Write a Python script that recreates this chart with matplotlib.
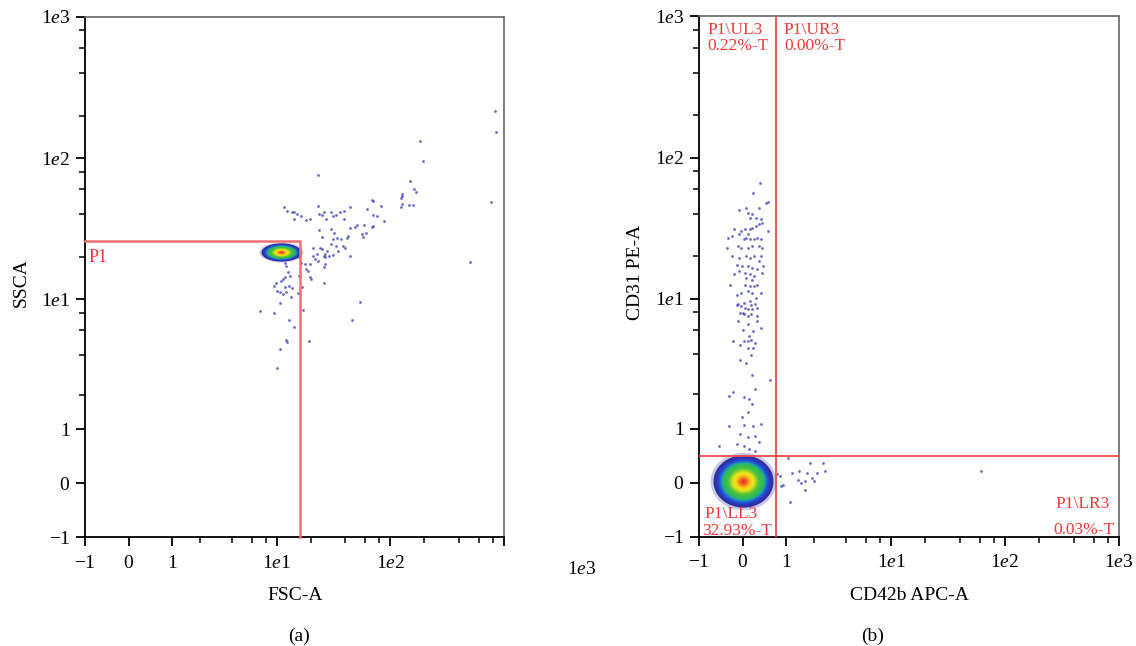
import numpy as np
import matplotlib
matplotlib.use("Agg")
import matplotlib.pyplot as plt
from matplotlib.path import Path
from matplotlib.colors import LinearSegmentedColormap
from matplotlib.ticker import FixedLocator, FixedFormatter, NullFormatter

plt.rcParams['font.family'] = ['Liberation Serif', 'DejaVu Serif']
plt.rcParams['mathtext.fontset'] = 'custom'
plt.rcParams['mathtext.rm'] = 'Liberation Serif'
plt.rcParams['mathtext.it'] = 'Liberation Serif:italic'

# ---------------- data ----------------
major_ticks = [-1, 0, 1, 10, 100, 1000]
major_labels = [r'$-1$', r'$0$', r'$1$', r'$1\mathit{e}1$', r'$1\mathit{e}2$', r'$1\mathit{e}3$']
minor_ticks = [2, 4, 6, 8, 20, 40, 60, 80, 200, 400, 600, 800]

# panel (a): FSC-A vs SSCA  (events as (FSC, SSC))
a_far = [(830, 214), (854, 152), (184, 133), (193, 95), (772, 48.5), (499, 18.5), (23.0, 76)]
a_right = [(148, 68.3), (162, 60.3), (168, 58.0), (126, 56.1), (128, 53.5), (124, 51.8),
           (126, 47.2), (124, 44.7), (145, 46.7), (158, 46.7), (68.4, 50.4), (70.9, 49.8),
           (83.6, 45.9), (62.8, 43.5), (69.8, 39.4), (76.1, 39.0), (87.9, 35.9), (70.9, 33.1),
           (68.4, 32.4), (59.2, 33.7), (50.6, 33.5), (48.8, 32.6), (44.5, 32.1), (42.9, 28.3),
           (42.0, 27.4), (57.2, 27.8), (56.0, 29.2), (61.4, 29.7)]
a_top_band = [(11.5, 44.7), (12.3, 41.9), (13.6, 41.6), (14.3, 41.2), (15.2, 40.1), (16.3, 39.0),
              (18.1, 36.5), (19.8, 36.9), (23.0, 45.9), (25.1, 39.6), (26.3, 41.2), (27.3, 36.9),
              (30.0, 41.2), (31.1, 39.0), (33.6, 39.4), (35.9, 41.2), (39.1, 42.1), (44.5, 44.7),
              (39.1, 36.9), (23.8, 40.1), (14.2, 36.9)]
a_mid_band = [(23.8, 30.8), (25.1, 27.8), (30.0, 31.7), (32.2, 29.7), (31.1, 26.6), (34.1, 27.4),
              (36.6, 26.6), (38.5, 23.9), (39.9, 23.2), (33.4, 23.9), (30.0, 24.5), (27.9, 22.0),
              (26.9, 20.8), (28.9, 20.3), (31.1, 20.5), (24.2, 23.2), (25.1, 22.6), (20.9, 20.3),
              (22.5, 20.8), (20.9, 23.2), (21.7, 19.2), (19.5, 17.7), (17.9, 17.7), (18.1, 16.5),
              (18.8, 15.9), (19.5, 14.3), (20.2, 13.9), (26.0, 20.3), (26.9, 19.8), (26.9, 17.7),
              (26.3, 13.1), (44.5, 20.3), (34.6, 22.0), (26.0, 16.8), (23.3, 18.7), (15.7, 19.8),
              (16.3, 18.2), (15.9, 14.6), (16.9, 12.3), (15.5, 11.0)]
a_below = [(11.8, 18.2), (12.2, 17.2), (12.7, 15.5), (11.8, 14.3), (11.4, 13.9), (11.0, 13.5),
           (9.9, 13.1), (9.5, 12.4), (10.1, 11.5), (10.6, 11.2), (11.4, 10.9), (12.2, 11.3),
           (13.3, 10.4), (12.9, 12.4), (13.6, 12.1), (11.8, 12.3), (13.1, 14.6),
           (10.8, 9.38), (7.15, 8.18), (9.5, 7.96), (17.1, 8.45), (53.7, 9.54), (46.5, 7.10),
           (12.9, 7.06), (14.2, 6.30), (12.1, 5.14), (12.3, 4.91), (19.3, 4.99), (10.8, 4.43),
           (10.1, 3.21)]
a_cluster_center = (10.9, 21.6)
a_gate = (16.0, 25.7)

# panel (b): CD42b APC-A vs CD31 PE-A (events as (CD42b, CD31))
b_stripe_high = [(0.363, 66.1), (0.210, 55.8), (0.540, 48.8), (0.500, 48.0), (0.339, 44.2),
                 (-0.071, 42.5), (0.061, 44.2), (0.113, 40.7), (0.187, 39.6), (0.150, 37.5),
                 (0.263, 37.5), (0.378, 36.9), (0.402, 34.6), (0.339, 33.7), (0.263, 32.8),
                 (0.187, 31.9), (0.150, 31.0), (0.039, 31.0), (-0.035, 30.2), (-0.071, 28.6),
                 (-0.183, 31.0), (-0.221, 27.8), (-0.296, 27.1), (0.113, 28.6), (0.076, 27.1),
                 (0.024, 26.4), (0.150, 26.4), (0.225, 26.4), (0.301, 27.1), (0.378, 26.4),
                 (0.540, 30.2), (-0.093, 23.6), (-0.035, 23.0), (0.113, 23.0), (0.187, 23.6),
                 (0.339, 23.6), (0.402, 23.0), (-0.319, 23.0), (-0.221, 20.1), (-0.071, 19.5),
                 (0.076, 20.1), (0.150, 19.5), (0.225, 20.1), (0.378, 20.1), (0.339, 18.5),
                 (-0.108, 17.5), (-0.020, 17.1), (0.113, 17.1), (0.187, 16.6), (0.301, 16.2),
                 (0.418, 17.1), (-0.071, 15.7), (0.039, 15.3), (0.150, 14.9), (0.225, 14.5),
                 (0.402, 15.3), (-0.183, 14.9), (0.076, 14.1), (0.187, 13.7), (0.039, 12.6),
                 (-0.258, 12.6), (0.150, 12.3), (0.301, 12.6), (0.225, 12.3), (0.378, 11.0),
                 (-0.035, 11.0), (-0.108, 10.7), (0.113, 11.3), (0.187, 11.0), (0.263, 10.2),
                 (0.150, 9.6), (-0.108, 9.1), (-0.035, 8.9), (0.039, 8.6), (0.187, 8.4),
                 (0.301, 8.6), (0.002, 7.9), (0.113, 7.5)]
b_stripe_low = [(-0.085, 9.24), (0.026, 9.39), (0.176, 9.04), (0.252, 9.14), (0.100, 8.41),
                (-0.048, 7.96), (0.026, 7.83), (0.176, 7.74), (0.290, 7.54), (-0.085, 6.92),
                (0.100, 6.63), (0.290, 6.92), (0.011, 6.03), (0.369, 6.19), (0.214, 5.86),
                (0.138, 5.39), (-0.198, 4.96), (0.026, 5.02), (0.100, 4.96), (0.176, 5.10),
                (0.252, 4.82), (-0.048, 4.69), (0.100, 4.43), (0.214, 4.43), (0.176, 3.95),
                (-0.048, 3.63), (0.063, 3.43), (0.191, 2.80), (0.574, 2.57), (-0.274, 1.95),
                (-0.198, 2.08), (0.026, 1.90), (0.138, 1.84), (0.252, 2.21), (0.191, 1.67),
                (-0.011, 1.29), (0.100, 1.42), (-0.274, 1.07), (0.026, 1.09), (0.214, 1.07),
                (0.369, 1.10), (-0.048, 0.880), (0.100, 0.809), (0.252, 0.845), (-0.123, 0.672),
                (0.026, 0.639), (0.329, 0.705), (-0.490, 0.639), (0.138, 0.575), (0.252, 0.544)]
b_right = [(0.753, 0.136), (0.831, 0.109), (0.898, -0.030), (1.05, 0.422), (1.165, 0.164),
           (1.35, 0.053), (1.41, 0.191), (1.48, -0.002), (1.61, 0.025), (1.68, 0.164),
           (1.83, 0.321), (1.90, 0.080), (1.99, 0.025), (2.12, 0.164), (2.44, 0.333),
           (2.54, 0.191), (1.61, -0.112), (1.11, -0.326), (0.849, -0.057), (62.0, 0.191)]
b_cluster_center = (0.0, 0.03)
b_gate = (0.72, 0.45)
b_quadrants = ['P1\\UL3', 'P1\\UR3', 'P1\\LL3', 'P1\\LR3']
b_percent = ['0.22%-T', '0.00%-T', '32.93%-T', '0.03%-T']

# ---------------- styling / layout ----------------
W, H = 1136, 646
fig = plt.figure(figsize=(W / 100, H / 100), dpi=100)

def fx(px):
    return px / W

def fy(py):
    return 1 - py / H

def make_axes(left, right, top, bottom):
    return fig.add_axes([fx(left), fy(bottom), fx(right) - fx(left), (bottom - top) / H])

axA = make_axes(85, 504, 16.8, 537.3)
axB = make_axes(699, 1119, 16.3, 536.9)

RED = '#f03a3a'
DOT = '#4646b4'
dens_cmap = LinearSegmentedColormap.from_list('dens', [
    (0.00, '#2c2c9a'), (0.12, '#2a3cc0'), (0.20, '#2062d8'), (0.26, '#1a9cb8'),
    (0.31, '#2bb860'), (0.48, '#4cc23e'), (0.58, '#a8d828'), (0.65, '#eee818'),
    (0.76, '#f8c818'), (0.86, '#f07020'), (1.00, '#e02020')])


def ellipse_marker(ratio):
    t = np.linspace(0, 2 * np.pi, 73)
    return Path(np.column_stack([np.cos(t), ratio * np.sin(t)]), closed=True)


def draw_cluster(ax, center, width_px, ratio):
    mk = ellipse_marker(ratio)
    ax.scatter([center[0]], [center[1]], s=(0.72 * width_px * 1.1) ** 2, marker=mk,
               color='#3a3aa8', alpha=0.28, linewidths=0, zorder=3)
    n = 36
    for k in range(n):
        f = 1 - k / n
        ax.scatter([center[0]], [center[1]], s=(0.72 * width_px * f) ** 2, marker=mk,
                   color=dens_cmap(1 - f), linewidths=0, zorder=3.1 + k * 0.01)


def style_axes(ax, label_x_end=True):
    ax.set_xscale('function', functions=(np.arcsinh, np.sinh))
    ax.set_yscale('function', functions=(np.arcsinh, np.sinh))
    ax.set_xlim(-1, 1000)
    ax.set_ylim(-1, 1000)
    xl = list(major_labels)
    if not label_x_end:
        xl[-1] = ''
    ax.xaxis.set_major_locator(FixedLocator(major_ticks))
    ax.xaxis.set_major_formatter(FixedFormatter(xl))
    ax.yaxis.set_major_locator(FixedLocator(major_ticks))
    ax.yaxis.set_major_formatter(FixedFormatter(major_labels))
    ax.xaxis.set_minor_locator(FixedLocator(minor_ticks))
    ax.yaxis.set_minor_locator(FixedLocator(minor_ticks))
    ax.xaxis.set_minor_formatter(NullFormatter())
    ax.yaxis.set_minor_formatter(NullFormatter())
    ax.tick_params(which='major', direction='out', length=6.5, width=1.3, labelsize=14,
                   color='black')
    ax.tick_params(axis='x', which='major', pad=6)
    ax.tick_params(axis='y', which='major', pad=4)
    ax.tick_params(which='minor', direction='out', length=4, width=1.1, color='black')
    for s in ['left', 'bottom']:
        ax.spines[s].set_linewidth(1.3)
        ax.spines[s].set_color('black')
    for s in ['top', 'right']:
        ax.spines[s].set_linewidth(1.2)
        ax.spines[s].set_color('#666666')


def scatter_events(ax, *groups):
    xs = [p[0] for g in groups for p in g]
    ys = [p[1] for g in groups for p in g]
    ax.scatter(xs, ys, s=4, color=DOT, alpha=0.8, linewidths=0, zorder=2)


# ---- panel (a)
style_axes(axA, label_x_end=False)
scatter_events(axA, a_far, a_right, a_top_band, a_mid_band, a_below)
draw_cluster(axA, a_cluster_center, 40, 0.45)
axA.plot([-1, a_gate[0], a_gate[0]], [a_gate[1], a_gate[1], -1], color='#f07070', lw=1.8,
         zorder=4, clip_on=False)
fig.text(fx(88.5), fy(261.5), 'P1', color=RED, fontsize=13, ha='left', va='baseline')
fig.text(fx(295.5), fy(595), 'FSC-A', fontsize=14, ha='center', va='center')
fig.text(fx(21), fy(283), 'SSCA', fontsize=14, ha='center', va='center', rotation=90)
fig.text(fx(581.7), fy(570), r'$1\mathit{e}3$', fontsize=14, ha='center', va='center')
fig.text(fx(299), fy(636), '(a)', fontsize=14, ha='center', va='center')

# ---- panel (b)
style_axes(axB, label_x_end=True)
scatter_events(axB, b_stripe_high, b_stripe_low, b_right)
draw_cluster(axB, b_cluster_center, 60, 0.87)
axB.axvline(b_gate[0], color='#f04a4a', lw=1.3, zorder=4)
axB.axhline(b_gate[1], color='#f04a4a', lw=1.3, zorder=4)
fs_q = 12.5
fig.text(fx(707.5), fy(33.5), b_quadrants[0], color=RED, fontsize=fs_q, ha='left', va='baseline')
fig.text(fx(707.0), fy(49.5), b_percent[0], color=RED, fontsize=fs_q, ha='left', va='baseline')
fig.text(fx(783.5), fy(33.5), b_quadrants[1], color=RED, fontsize=fs_q, ha='left', va='baseline')
fig.text(fx(784.0), fy(49.5), b_percent[1], color=RED, fontsize=fs_q, ha='left', va='baseline')
fig.text(fx(704.5), fy(518.0), b_quadrants[2], color=RED, fontsize=fs_q, ha='left', va='baseline')
fig.text(fx(702.0), fy(535.0), b_percent[2], color=RED, fontsize=fs_q, ha='left', va='baseline')
fig.text(fx(1110), fy(507.5), b_quadrants[3], color=RED, fontsize=fs_q, ha='right', va='baseline')
fig.text(fx(1114), fy(533.5), b_percent[3], color=RED, fontsize=fs_q, ha='right', va='baseline')
fig.text(fx(909.5), fy(596), 'CD42b APC-A', fontsize=14, ha='center', va='center')
fig.text(fx(636), fy(272), 'CD31 PE-A', fontsize=14, ha='center', va='center', rotation=90)
fig.text(fx(873), fy(636), '(b)', fontsize=14, ha='center', va='center')

fig.savefig('out.png', dpi=100)
